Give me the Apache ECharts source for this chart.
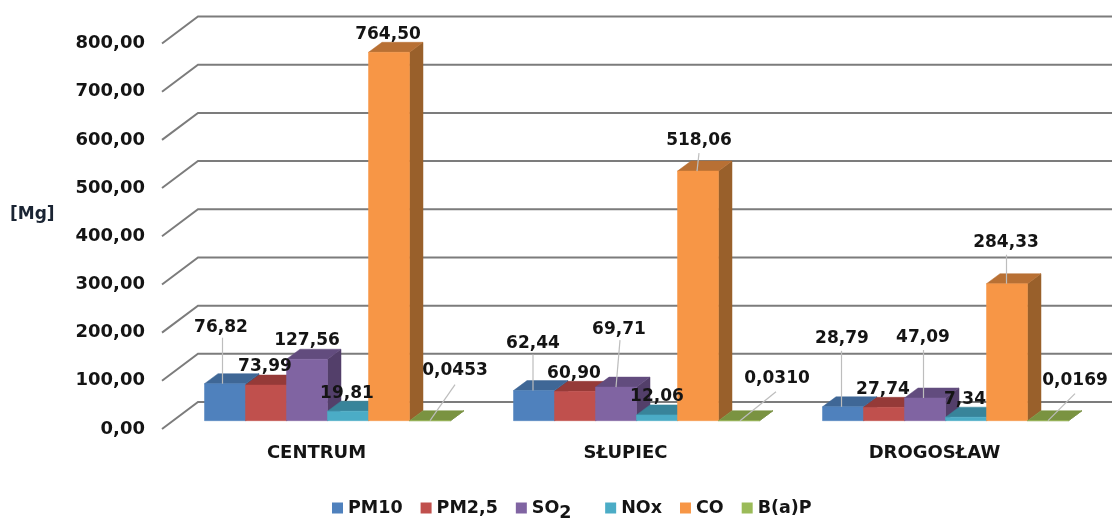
<!DOCTYPE html>
<html>
<head>
<meta charset="utf-8">
<style>html,body{margin:0;padding:0;background:#fff}#c{width:1112px;height:520px}</style>
<script src="https://cdn.jsdelivr.net/npm/echarts@6/dist/echarts.min.js"></script>
</head>
<body>
<div id="c"></div>
<script>
const categories = ['CENTRUM', 'SŁUPIEC', 'DROGOSŁAW'];
const PM10 = [76.82, 62.44, 28.79];
const PM25 = [73.99, 60.90, 27.74];
const SO2 = [127.56, 69.71, 47.09];
const NOx = [19.81, 12.06, 7.34];
const CO = [764.50, 518.06, 284.33];
const BaP = [0.0453, 0.0310, 0.0169];
const seriesNames = ['PM10', 'PM2,5', 'SO2', 'NOx', 'CO', 'B(a)P'];
const seriesValues = [PM10, PM25, SO2, NOx, CO, BaP];
const seriesColors = ['#4F81BD', '#C0504D', '#8064A2', '#4BACC6', '#F79646', '#9BBB59'];
const topColors = ['#3F6796', '#953A38', '#624C7E', '#38849A', '#B87034', '#7A9341'];
const sideColors = ['#35567E', '#7C302E', '#533F6A', '#2F6F82', '#99602B', '#668036'];
const yTicks = [0, 100, 200, 300, 400, 500, 600, 700, 800];

// Label placement relative to the top-centre of each bar:
// [labelDx, labelDy, leaderStartDx, leaderStartDy, leaderEndDx]
const labelPlacement = [
  [[-4,-56,-2.5,-46,-2.5], [-1,-18], [0,-19], [-1,-18], [-1,-18], [25,-50,25,-36,0]],
  [[-1,-47,-1,-36,-1], [-1,-18], [3,-58,4,-47,0], [0,-18], [1,-30,1,-18,-1], [38,-42,37,-29,1]],
  [[-1,-68,-1.5,-56,-1.5], [-1,-18], [-2,-60,-1.5,-48,-1.5], [-1,-18], [-1,-41,-0.5,-29,-0.5], [27,-40,27,-27,0]]
];

const FONT = '"DejaVu Sans", sans-serif';
const TEXT = '#141414';
const BAR_W = 41, BAR_DX = 11, BAR_DY = -8.3, DEPTH_X = 13.5, DEPTH_Y = -10;
const WALL_DX = 36, WALL_DY = -27;

function fmt(v) { return v.toFixed(v < 1 ? 4 : 2).replace('.', ','); }

function barGeom(api, cat, val, s) {
  const base = api.coord([cat, 0]);
  const top = api.coord([cat, val]);
  const x0 = base[0] - 3 * BAR_W + s * BAR_W + BAR_DX;
  return { x0, x1: x0 + BAR_W, yb: base[1] + BAR_DY, yt: top[1] + BAR_DY };
}

const barSeries = seriesNames.map((name, s) => ({
  name,
  type: 'custom',
  coordinateSystem: 'cartesian2d',
  itemStyle: { color: seriesColors[s] },
  encode: { x: 0, y: 1 },
  z: 3,
  silent: true,
  data: seriesValues[s].map((v, i) => [i, v]),
  renderItem(params, api) {
    const g = barGeom(api, api.value(0), api.value(1), s);
    const poly = (pts, fill) => ({ type: 'polygon', shape: { points: pts }, style: { fill, stroke: fill, lineWidth: 0.5 } });
    return {
      type: 'group',
      children: [
        poly([[g.x1, g.yb], [g.x1 + DEPTH_X, g.yb + DEPTH_Y], [g.x1 + DEPTH_X, g.yt + DEPTH_Y], [g.x1, g.yt]], sideColors[s]),
        poly([[g.x0, g.yt], [g.x1, g.yt], [g.x1 + DEPTH_X, g.yt + DEPTH_Y], [g.x0 + DEPTH_X, g.yt + DEPTH_Y]], topColors[s]),
        poly([[g.x0, g.yb], [g.x1, g.yb], [g.x1, g.yt], [g.x0, g.yt]], seriesColors[s])
      ]
    };
  }
}));

const wallSeries = {
  type: 'custom',
  coordinateSystem: 'cartesian2d',
  encode: { x: 0, y: 1 },
  z: 1,
  silent: true,
  clip: false,
  data: yTicks.map(v => [0, v]),
  renderItem(params, api) {
    const y = api.coord([0, api.value(1)])[1];
    const x = params.coordSys.x;
    return {
      type: 'polyline',
      shape: { points: [[x, y], [x + WALL_DX, y + WALL_DY], [1112, y + WALL_DY]] },
      style: { fill: 'none', stroke: '#7c7c7c', lineWidth: 2 }
    };
  }
};

const labelData = [];
seriesValues.forEach((vals, s) => vals.forEach((v, i) => labelData.push([i, v, s])));
const labelSeries = {
  type: 'custom',
  coordinateSystem: 'cartesian2d',
  encode: { x: 0, y: 1 },
  z: 5,
  silent: true,
  clip: false,
  data: labelData,
  renderItem(params, api) {
    const cat = api.value(0), val = api.value(1), s = api.value(2);
    const g = barGeom(api, cat, val, s);
    const cx = g.x0 + BAR_W / 2;
    const p = labelPlacement[cat][s];
    const children = [];
    if (p.length > 2) {
      children.push({
        type: 'line',
        shape: { x1: cx + p[2], y1: g.yt + p[3], x2: cx + p[4], y2: g.yt },
        style: { stroke: '#bdbdbd', lineWidth: 1.2 }
      });
    }
    children.push({
      type: 'text',
      style: {
        x: cx + p[0], y: g.yt + p[1], text: fmt(val), align: 'center', verticalAlign: 'middle',
        font: 'bold 17px ' + FONT, fill: TEXT
      }
    });
    return { type: 'group', children };
  }
};

const chart = echarts.init(document.getElementById('c'), null, { renderer: 'canvas' });
chart.setOption({
  animation: false,
  backgroundColor: '#fff',
  title: {
    text: '[Mg]', left: 5, top: 201,
    textStyle: { fontFamily: FONT, fontWeight: 'bold', fontSize: 17, color: '#1a2433' }
  },
  grid: { left: 162, top: 43.5, width: 927, height: 385.5, containLabel: false },
  xAxis: {
    type: 'category',
    data: categories,
    axisLine: { show: false },
    axisTick: { show: false },
    axisLabel: { fontFamily: FONT, fontWeight: 'bold', fontSize: 18, color: TEXT, margin: 15 }
  },
  yAxis: {
    type: 'value', min: 0, max: 800, interval: 100,
    axisLine: { show: false },
    axisTick: { show: false },
    splitLine: { show: false },
    axisLabel: {
      fontFamily: FONT, fontWeight: 'bold', fontSize: 18, color: TEXT, margin: 17,
      padding: [0, 0, 8, 0],
      formatter: v => v.toFixed(2).replace('.', ',')
    }
  },
  legend: {
    data: seriesNames.map(n => ({ name: n, icon: 'rect' })),
    left: 327, top: 494,
    itemWidth: 11, itemHeight: 11, itemGap: 18,
    textStyle: { fontFamily: FONT, fontWeight: 'bold', fontSize: 17.5, color: TEXT,
      rich: {
        n: { fontFamily: FONT, fontWeight: 'bold', fontSize: 17.5, color: TEXT },
        sub: { fontFamily: FONT, fontWeight: 'bold', fontSize: 17.5, color: TEXT, padding: [10, 0, 0, 0] },
        gap: { fontFamily: FONT, fontWeight: 'bold', fontSize: 15, color: TEXT }
      }
    },
    formatter: n => n === 'SO2' ? '{n|SO}{sub|2}{gap|\u00a0\u00a0\u00a0}' : n
  },
  series: [wallSeries, ...barSeries, labelSeries]
});
</script>
</body>
</html>
